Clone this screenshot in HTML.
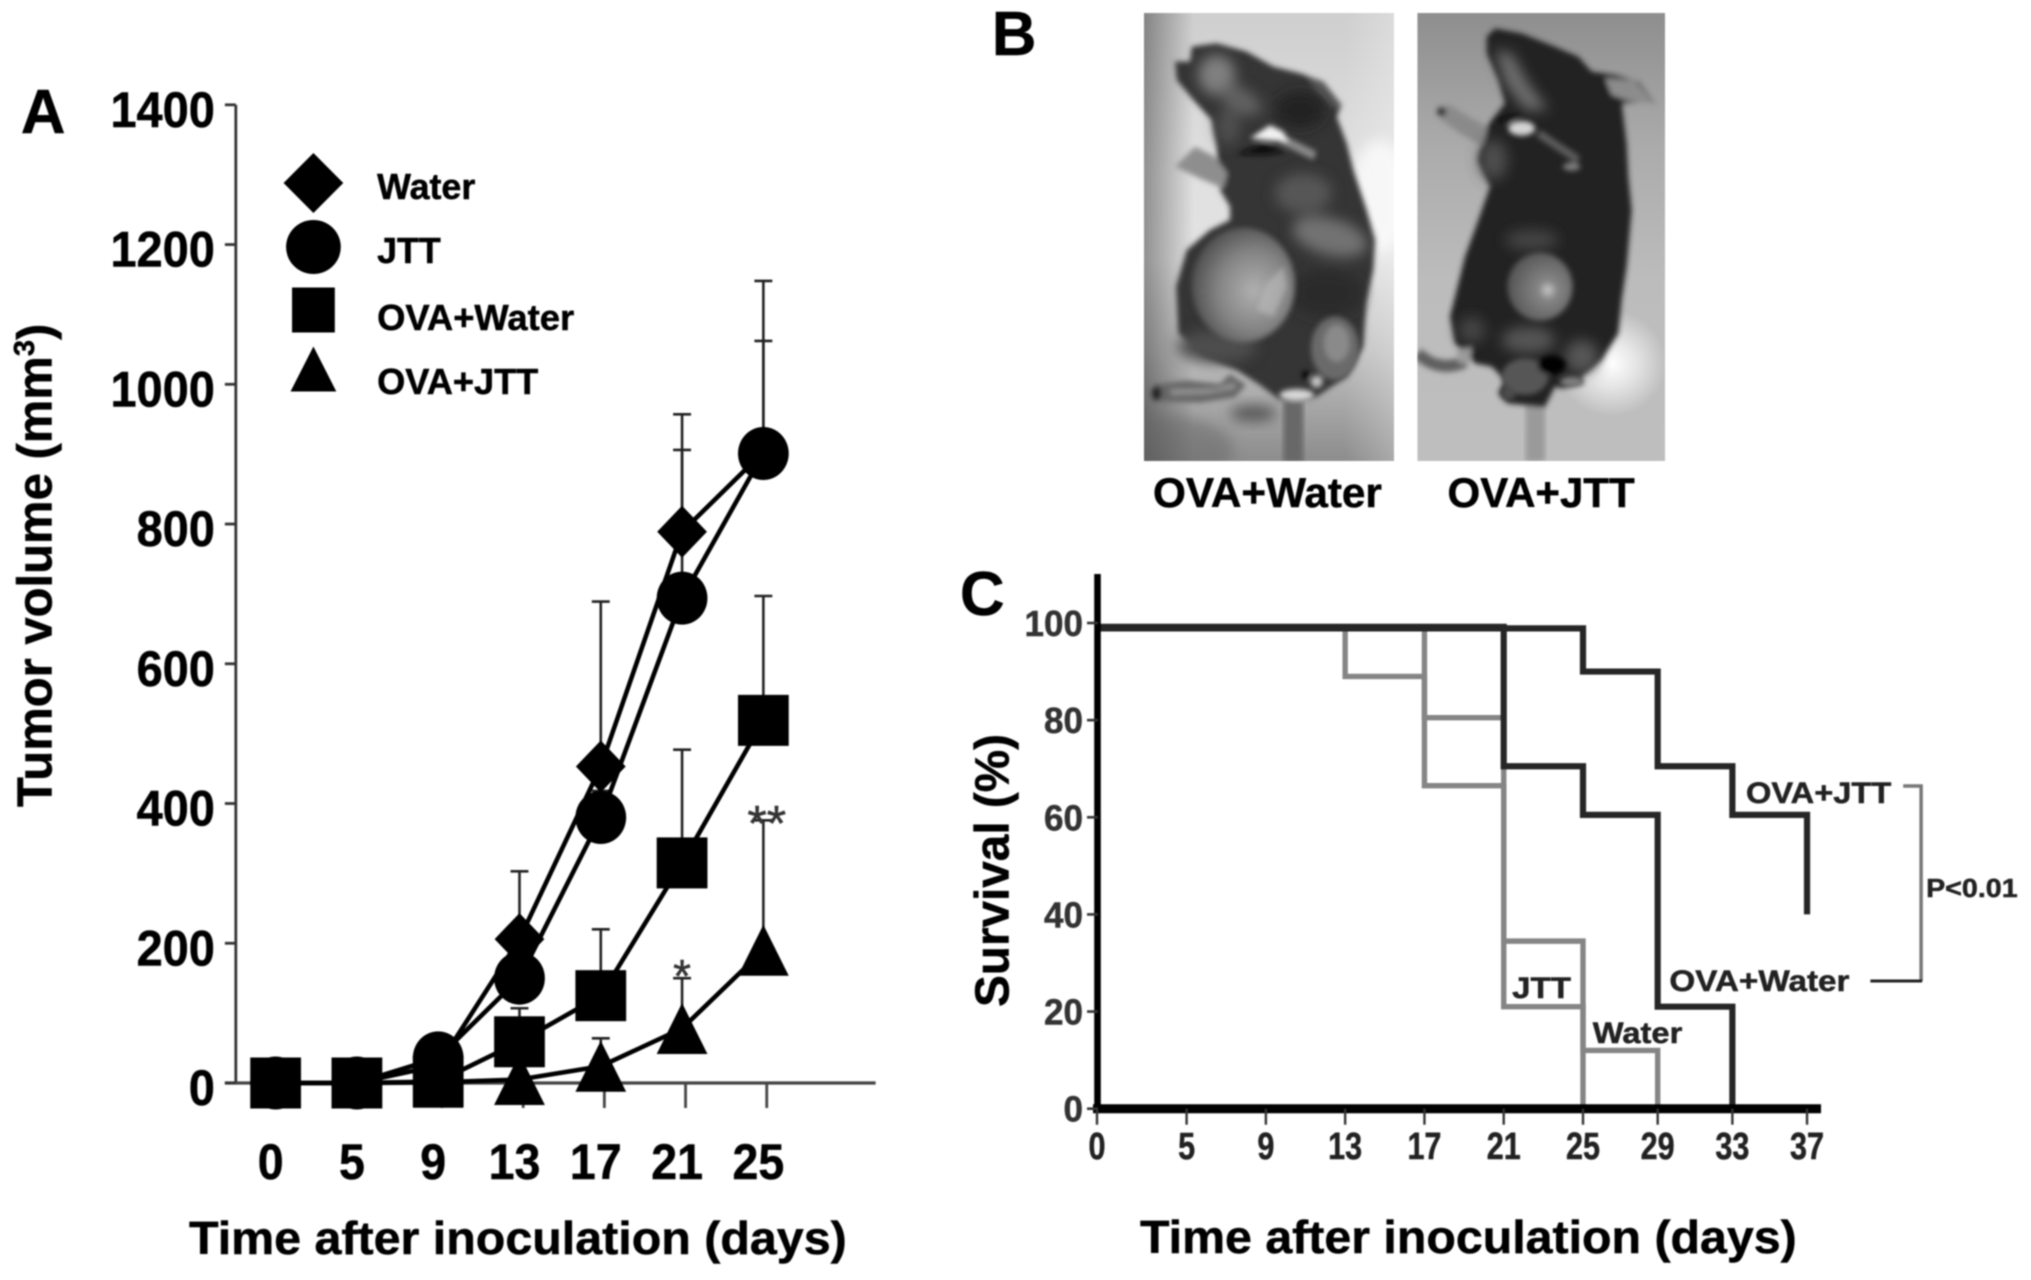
<!DOCTYPE html>
<html lang="en">
<head>
<meta charset="utf-8">
<title>Tumor volume and survival figure</title>
<style>
html,body{margin:0;padding:0;background:#fff;width:2031px;height:1280px;overflow:hidden}
svg{display:block;filter:blur(0.8px)}
text{font-family:"Liberation Sans",sans-serif;font-weight:bold;fill:#000;stroke:#000;stroke-width:.5}
</style>
</head>
<body>
<svg id="fig" xmlns="http://www.w3.org/2000/svg" width="2031" height="1280" viewBox="0 0 2031 1280">
  <defs>
    <filter id="softA" x="-10%" y="-10%" width="120%" height="120%"><feGaussianBlur stdDeviation="8"/></filter>
    <filter id="softB" x="-60%" y="-60%" width="220%" height="220%"><feGaussianBlur stdDeviation="20"/></filter>
    <clipPath id="clipL"><rect x="12" y="9" width="750" height="1344"/></clipPath>
    <clipPath id="clipR"><rect x="7" y="9" width="743" height="1344"/></clipPath>
    <linearGradient id="bgL" x1="0" y1="0" x2="0" y2="1">
      <stop offset="0" stop-color="#cecece"/><stop offset=".35" stop-color="#e0e0e0"/>
      <stop offset=".55" stop-color="#e2e2e2"/><stop offset=".75" stop-color="#c2c2c2"/><stop offset="1" stop-color="#8c8c8c"/>
    </linearGradient>
    <linearGradient id="bgLs" x1="0" y1="0" x2="1" y2="0">
      <stop offset="0" stop-color="#000" stop-opacity=".36"/><stop offset=".2" stop-color="#000" stop-opacity="0"/>
      <stop offset=".8" stop-color="#fff" stop-opacity="0"/><stop offset="1" stop-color="#fff" stop-opacity=".25"/>
    </linearGradient>
    <linearGradient id="bgR" x1="0" y1="0" x2="0" y2="1">
      <stop offset="0" stop-color="#8e8e8e"/><stop offset=".3" stop-color="#ababab"/><stop offset=".6" stop-color="#bcbcbc"/><stop offset="1" stop-color="#bebebe"/>
    </linearGradient>
    <radialGradient id="glowR"><stop offset="0" stop-color="#fff"/><stop offset=".45" stop-color="#fff" stop-opacity=".6"/><stop offset="1" stop-color="#fff" stop-opacity="0"/></radialGradient>
    <radialGradient id="tumorL" cx=".6" cy=".55" r=".62"><stop offset="0" stop-color="#b0b0b0"/><stop offset=".55" stop-color="#848484"/><stop offset="1" stop-color="#4c4c4c"/></radialGradient>
    <radialGradient id="tumorR" cx=".62" cy=".55" r=".62"><stop offset="0" stop-color="#d0d0d0"/><stop offset=".22" stop-color="#868686"/><stop offset="1" stop-color="#545454"/></radialGradient>
  </defs>

  <!-- Panel A static text -->
  <g transform="scale(.995,1)">
    <text x="21" y="133" font-size="62">A</text>
    <text transform="translate(52,807) rotate(-90)" font-size="49">Tumor volume (mm<tspan dy="-18" font-size="29">3</tspan><tspan dy="18">)</tspan></text>
    <text x="190" y="1254" font-size="46" textLength="661" lengthAdjust="spacingAndGlyphs">Time after inoculation (days)</text>
    <text x="379" y="199" font-size="36">Water</text>
    <text x="379" y="263" font-size="36">JTT</text>
    <text x="379" y="330" font-size="36" textLength="198" lengthAdjust="spacingAndGlyphs">OVA+Water</text>
    <text x="379" y="394" font-size="36" textLength="162" lengthAdjust="spacingAndGlyphs">OVA+JTT</text>
    <g id="chartA"></g>
  </g>

  <!-- Panel B -->
  <g transform="translate(4.8,0) scale(.995,1)">
    <text x="992" y="55" font-size="62">B</text>
    <text x="1154" y="507" font-size="42" textLength="230" lengthAdjust="spacingAndGlyphs">OVA+Water</text>
    <text x="1450" y="507" font-size="42" textLength="188" lengthAdjust="spacingAndGlyphs">OVA+JTT</text>
  </g>

  <g transform="translate(1140,10) scale(.33333)">
    <g clip-path="url(#clipL)">
      <rect x="12" y="9" width="750" height="1344" fill="url(#bgL)"/>
      <rect x="12" y="9" width="750" height="1344" fill="url(#bgLs)"/>
      <ellipse cx="720" cy="560" rx="90" ry="170" fill="#fff" opacity=".7" filter="url(#softB)"/>
      <ellipse cx="90" cy="1320" rx="190" ry="100" fill="#666" opacity=".5" filter="url(#softB)"/>
      <ellipse cx="340" cy="1210" rx="70" ry="24" fill="#555" filter="url(#softB)"/>
      <rect x="430" y="1170" width="60" height="190" fill="#686868" filter="url(#softA)"/>
      <g filter="url(#softA)">
        <path fill="#666" d="M38 1125 L140 1112 L240 1122 L270 1092 L318 1125 L285 1162 L180 1178 L60 1175 Z"/>
        <path fill="#929292" d="M90 1138 L230 1135 L280 1118 L288 1135 L200 1152 L95 1155 Z"/>
        <ellipse cx="50" cy="1150" rx="15" ry="22" fill="#222"/>
        <path fill="#363636" d="M155 110 L230 100 L320 125 L400 170 L480 190 L550 215 L605 285 L590 320 L620 400 L640 480 L680 600 L705 690 L700 780 L680 870 L670 1010 L620 1100 L530 1160 L500 1170 L420 1170 L360 1125 L290 1080 L190 1040 L115 970 L108 830 L140 720 L210 660 L270 630 L270 590 L240 540 L230 410 L215 330 L160 270 L110 210 L105 155 L150 155 Z"/>
        <path fill="#8e8e8e" d="M105 470 L165 410 L225 440 L262 490 L250 535 L180 505 Z"/>
        <path fill="#5a5a5a" d="M500 200 L550 215 L605 285 L590 300 L530 245 Z"/>
      </g>
      <g filter="url(#softB)">
        <ellipse cx="230" cy="195" rx="55" ry="60" fill="#808080"/>
        <ellipse cx="300" cy="270" rx="70" ry="36" fill="#626262" transform="rotate(30 300 270)"/>
        <ellipse cx="265" cy="350" rx="35" ry="55" fill="#505050"/>
        <ellipse cx="480" cy="300" rx="75" ry="55" fill="#242424"/>
        <ellipse cx="490" cy="550" rx="85" ry="60" fill="#565656"/>
        <ellipse cx="570" cy="680" rx="115" ry="55" fill="#727272" transform="rotate(15 570 680)"/>
        <ellipse cx="560" cy="850" rx="110" ry="70" fill="#2a2a2a"/>
        <ellipse cx="230" cy="1010" rx="120" ry="50" fill="#4e4e4e"/>
      </g>
      <g filter="url(#softA)">
        <path fill="#8a8a8a" d="M430 375 L530 425 L520 450 L420 400 Z"/>
        <path fill="#f2f2f2" d="M330 385 L390 345 L430 365 L445 395 L390 392 Z"/>
        <path fill="#101010" d="M290 432 L370 400 L440 425 L370 435 Z"/>
        <ellipse cx="310" cy="825" rx="155" ry="172" fill="url(#tumorL)"/>
        <ellipse cx="585" cy="1015" rx="72" ry="95" fill="#6a6a6a"/>
        <ellipse cx="590" cy="1000" rx="38" ry="55" fill="#8a8a8a"/>
        <ellipse cx="470" cy="1155" rx="52" ry="18" fill="#d8d8d8"/>
        <circle cx="530" cy="1115" r="18" fill="#c4c4c4"/>
        <circle cx="498" cy="1095" r="12" fill="#000"/>
      </g>
      <path fill="#bcbcbc" d="M430 770 L440 830 L400 920 L350 900 L380 820 Z" opacity=".6" filter="url(#softA)"/>
    </g>
  </g>

  <g transform="translate(1415,10) scale(.33333)">
    <g clip-path="url(#clipR)">
      <rect x="7" y="9" width="743" height="1344" fill="url(#bgR)"/>
      <ellipse cx="590" cy="1060" rx="165" ry="160" fill="url(#glowR)"/>
      <rect x="332" y="1180" width="58" height="175" fill="#9a9a9a" filter="url(#softA)"/>
      <g filter="url(#softA)">
        <path fill="none" stroke="#5e5e5e" stroke-width="36" d="M8 1030 C50 1070 100 1078 150 1055"/>
        <path fill="#242424" d="M215 80 L240 55 L320 70 L420 110 L490 140 L530 185 L600 195 L670 215 L720 280 L680 275 L620 280 L635 400 L640 500 L650 600 L635 770 L620 870 L610 970 L560 1050 L500 1100 L505 1120 L440 1135 L420 1130 L390 1190 L330 1185 L280 1180 L250 1150 L270 1110 L230 1070 L180 1060 L120 1000 L105 920 L130 820 L150 740 L190 630 L225 530 L190 450 L215 350 L270 280 L250 210 L215 130 Z"/>
        <path fill="#8c8c8c" d="M570 205 L660 212 L718 280 L640 272 L590 255 Z"/>
        <path fill="#8a8a8a" d="M68 295 L105 285 L165 322 L218 350 L205 410 L135 370 L78 328 Z"/>
        <circle cx="80" cy="305" r="14" fill="#333"/>
        <path fill="#9c9c9c" d="M125 1020 L170 1010 L165 1060 L130 1060 Z"/>
      </g>
      <g filter="url(#softB)">
        <path fill="#6e6e6e" d="M240 120 L290 130 L340 220 L400 300 L330 300 L270 220 Z"/>
        <ellipse cx="235" cy="450" rx="42" ry="60" fill="#4e4e4e"/>
        <ellipse cx="350" cy="690" rx="80" ry="30" fill="#444"/>
        <ellipse cx="340" cy="990" rx="80" ry="40" fill="#545454"/>
        <ellipse cx="500" cy="1040" rx="50" ry="50" fill="#565656"/>
        <ellipse cx="170" cy="960" rx="40" ry="40" fill="#444"/>
      </g>
      <g filter="url(#softA)">
        <path fill="none" stroke="#5c5c5c" stroke-width="24" d="M370 370 L490 450"/>
        <ellipse cx="470" cy="470" rx="26" ry="12" fill="#808080"/>
        <ellipse cx="320" cy="355" rx="40" ry="22" fill="#d4d4d4"/>
        <path fill="#101010" d="M240 330 L320 310 L280 340 Z"/>
        <ellipse cx="375" cy="830" rx="98" ry="102" fill="url(#tumorR)"/>
        <ellipse cx="330" cy="1100" rx="70" ry="55" fill="#565656"/>
        <circle cx="280" cy="1150" r="22" fill="#4c4c4c"/>
        <ellipse cx="410" cy="1065" rx="42" ry="28" fill="#000"/>
        <ellipse cx="470" cy="1115" rx="35" ry="15" fill="#808080"/>
      </g>
    </g>
  </g>

  <!-- Panel C -->
  <g id="chartC"></g>
  <g transform="translate(4.75,0) scale(.995,1)">
    <text x="960" y="615" font-size="62">C</text>
    <text transform="translate(1009,1007) rotate(-90)" font-size="48" textLength="273" lengthAdjust="spacingAndGlyphs">Survival (%)</text>
    <text x="1141" y="1253" font-size="46" textLength="660" lengthAdjust="spacingAndGlyphs">Time after inoculation (days)</text>
    <text x="1750" y="803" font-size="30" style="fill:#222;stroke:#222" textLength="146" lengthAdjust="spacingAndGlyphs">OVA+JTT</text>
    <text x="1673" y="991" font-size="30" style="fill:#222;stroke:#222" textLength="181" lengthAdjust="spacingAndGlyphs">OVA+Water</text>
    <text x="1515" y="998" font-size="30" style="fill:#222;stroke:#222" textLength="59" lengthAdjust="spacingAndGlyphs">JTT</text>
    <text x="1596" y="1043" font-size="30" style="fill:#222;stroke:#222" textLength="90" lengthAdjust="spacingAndGlyphs">Water</text>
    <path d="M1908 786 H1926 V981" fill="none" stroke="#777" stroke-width="3.5"/>
    <path d="M1875 981 H1927" fill="none" stroke="#222" stroke-width="3"/>
    <text x="1931" y="897" font-size="26" style="fill:#222;stroke:#222" textLength="92" lengthAdjust="spacingAndGlyphs">P&lt;0.01</text>
  </g>
</svg>

<script>
/* ---- Panel A data ---- */
const tumorDays = ['0','5','9','13','17','21','25'];
const tumorTicks = [0,200,400,600,800,1000,1200,1400];
const waterMean = [0,0,25,206,453,789,903];
const waterUpper = [0,0,25,303,689,957,1148];
const jttMean = [0,0,36,150,380,694,901];
const jttUpper = [0,0,36,225,418,906,1062];
const ovaWaterMean = [0,0,2,59,125,315,519];
const ovaWaterUpper = [0,0,2,107,220,477,697];
const ovaJttMean = [0,0,1,5,24,78,190];
const ovaJttUpper = [0,0,1,5,64,150,376];

/* ---- Panel C data ---- */
const survivalTickDays = [0,5,9,13,17,21,25,29,33,37];
const survivalTicks = [0,20,40,60,80,100];
const waterEventDays = [0,13,17,21,25,29];
const waterSurvival = [99,89,66.5,21,12,0];
const jttEventDays = [0,17,21,25];
const jttSurvival = [99,80.5,34.5,0];
const ovaWaterEventDays = [0,21,25,29,33];
const ovaWaterSurvival = [99.2,70.5,60.5,21,0];
const ovaJttEventDays = [0,25,29,33,37];
const ovaJttSurvival = [98.9,90,70.5,60.5,40];

const NS = 'http://www.w3.org/2000/svg';
function mk(parent, tag, attrs, txt){
  const e = document.createElementNS(NS, tag);
  for (const k in attrs) e.setAttribute(k, attrs[k]);
  if (txt !== undefined) e.textContent = txt;
  parent.appendChild(e);
  return e;
}

/* axis functions, panel A */
const xA = i => 277 + i * 81.7;
const yA = v => 1083 - v * 0.6987;
const xTickA = i => 281 + i * 81.6;
/* axis functions, panel C: piecewise linear day scale as in the figure */
function xC(day){
  if (day <= 5) return 1097 + day * 17.92;
  if (day <= 25) return 1186.6 + (day - 5) * 19.82;
  return 1583 + (day - 25) * 18.67;
}
const yC = v => 1108.7 - v * 4.857;

const A = document.getElementById('chartA');
const C = document.getElementById('chartC');

/* ---------- Panel A axes ---------- */
const axisAy = mk(A, 'line', {x1:237, x2:237, y1:yA(1400), y2:yA(0), stroke:'#333', 'stroke-width':2.8});


const axisAx = mk(A, 'line', {x1:226, x2:880, y1:yA(0), y2:yA(0), stroke:'#444', 'stroke-width':3.2});



tumorTicks.forEach(t => {
  const tk = mk(A, 'line', {x1:226, x2:237, y1:yA(t), y2:yA(t), stroke:'#333', 'stroke-width':2.8});
  
  
  const s = String(t);
  const lb = mk(A, 'text', {x:216 - s.length * 26.25, y:yA(t) + 22, 'font-size':50, textLength:s.length * 26.25, lengthAdjust:'spacingAndGlyphs'}, s);
  
  
});
tumorDays.forEach((d, i) => {
  const tk = mk(A, 'line', {x1:xTickA(i), x2:xTickA(i), y1:yA(0), y2:yA(0) + 25, stroke:'#444', 'stroke-width':2.8});
  
  
  const w = d.length * 26;
  const lb = mk(A, 'text', {x:xA(i) - 5 - w / 2, y:1179, 'font-size':50, textLength:w, lengthAdjust:'spacingAndGlyphs'}, d);
  
  
});

/* ---------- markers ---------- */
function marker(parent, kind, cx, cy, w, h){
  if (kind === 'diamond') return mk(parent, 'polygon', {points:[cx,cy-h/2, cx+w/2,cy, cx,cy+h/2, cx-w/2,cy].join(' '), fill:'#000'});
  if (kind === 'circle') return mk(parent, 'ellipse', {cx:cx, cy:cy, rx:w/2, ry:h/2, fill:'#000'});
  if (kind === 'square') return mk(parent, 'rect', {x:cx-w/2, y:cy-h/2, width:w, height:h, fill:'#000'});
  return mk(parent, 'polygon', {points:[cx,cy-h/2, cx+w/2,cy+h/2, cx-w/2,cy+h/2].join(' '), fill:'#000'});
}

/* ---------- Panel A error bars ---------- */
function errorBars(means, uppers, label){
  means.forEach((m, i) => {
    if (uppers[i] <= m) return;
    const bar = mk(A, 'path', {d:'M' + xA(i) + ' ' + yA(m) + ' V' + yA(uppers[i]) + ' M' + (xA(i) - 9) + ' ' + yA(uppers[i]) + ' H' + (xA(i) + 9), fill:'none', stroke:'#222', 'stroke-width':2.6});
    
    
  });
}
errorBars(waterMean, waterUpper, 'water');
errorBars(jttMean, jttUpper, 'jtt');
errorBars(ovaWaterMean, ovaWaterUpper, 'ova-water');
errorBars(ovaJttMean, ovaJttUpper, 'ova-jtt');

/* ---------- Panel A series ---------- */
function tumorSeries(values, kind, w, h, label){
  const ln = mk(A, 'polyline', {points:values.map((v, i) => xA(i) + ',' + yA(v)).join(' '), fill:'none', stroke:'#000', 'stroke-width':4.6});
  
  
  values.forEach((v, i) => {
    const m = marker(A, kind, xA(i), yA(v), w, h);
    
    
  });
}
tumorSeries(waterMean, 'diamond', 50, 52, 'water');
tumorSeries(jttMean, 'circle', 51, 53, 'jtt');
tumorSeries(ovaJttMean, 'triangle', 51, 51, 'ova-jtt');
tumorSeries(ovaWaterMean, 'square', 51, 51, 'ova-water');

/* legend markers */
const lgA = marker(A, 'diamond', 315, 183, 60, 60);


const lgB = marker(A, 'circle', 315, 247, 55, 54);


const lgC = marker(A, 'square', 315, 310, 43, 45);


const lgD = marker(A, 'triangle', 315, 369, 46, 45);



/* significance asterisks positioned from the series they annotate */
const star1 = mk(A, 'text', {x:xA(5) - 9, y:yA(ovaJttUpper[5]) + 14, 'font-size':46, style:'fill:#333;stroke:#333;font-weight:normal'}, '*');


const star2 = mk(A, 'text', {x:xA(6) - 16, y:yA(ovaJttUpper[6]) + 20, 'font-size':50, style:'fill:#333;stroke:#333;font-weight:normal'}, '**');



/* ---------- Panel C series ---------- */
function stepPath(days, values){
  let d = 'M' + xC(days[0]) + ' ' + yC(values[0]);
  for (let i = 1; i < values.length; i++) {
    d += ' H' + xC(days[i]) + ' V' + yC(values[i]);
  }
  return d;
}
const sWater = mk(C, 'path', {d:stepPath(waterEventDays, waterSurvival), fill:'none', stroke:'#858585', 'stroke-width':5.4});


const sJtt = mk(C, 'path', {d:stepPath(jttEventDays, jttSurvival), fill:'none', stroke:'#858585', 'stroke-width':5.4});


const sOvaWater = mk(C, 'path', {d:stepPath(ovaWaterEventDays, ovaWaterSurvival), fill:'none', stroke:'#262626', 'stroke-width':6.2});


const sOvaJtt = mk(C, 'path', {d:stepPath(ovaJttEventDays, ovaJttSurvival), fill:'none', stroke:'#262626', 'stroke-width':6.2});



/* ---------- Panel C axes ---------- */
const axisCy = mk(C, 'line', {x1:1097.5, x2:1097.5, y1:574, y2:yC(0) + 4, stroke:'#000', 'stroke-width':6.6});


const axisCx = mk(C, 'line', {x1:1093, x2:1821, y1:yC(0), y2:yC(0), stroke:'#000', 'stroke-width':9});



survivalTicks.forEach(t => {
  const tk = mk(C, 'line', {x1:1087, x2:1098, y1:yC(t), y2:yC(t), stroke:'#333', 'stroke-width':2.6});
  
  
  const s = String(t);
  const lb = mk(C, 'text', {x:1083 - s.length * 19.5, y:yC(t) + 13, 'font-size':36, style:'fill:#333;stroke:#333', textLength:s.length * 19.5, lengthAdjust:'spacingAndGlyphs'}, s);
  
  
});
survivalTickDays.forEach(day => {
  const tk = mk(C, 'line', {x1:xC(day), x2:xC(day), y1:yC(0), y2:yC(0) + 16, stroke:'#333', 'stroke-width':2.4});
  
  
  const s = String(day);
  const w = s.length * 17;
  const lb = mk(C, 'text', {x:xC(day) - w / 2, y:1159, 'font-size':38, style:'fill:#222;stroke:#222', textLength:w, lengthAdjust:'spacingAndGlyphs'}, s);
  
  
});
</script>
</body>
</html>
